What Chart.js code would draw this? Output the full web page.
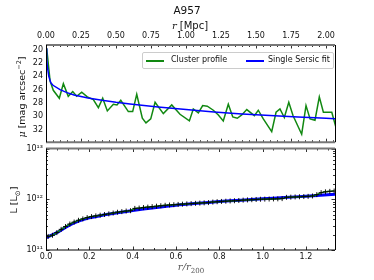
<!DOCTYPE html>
<html>
<head>
<meta charset="utf-8">
<script src="https://cdn.jsdelivr.net/npm/chart.js@4.4.1/dist/chart.umd.min.js"></script>
<style>
html, body { margin: 0; padding: 0; background: #fff; }
#wrap { position: relative; width: 374px; height: 280px; overflow: hidden; font-family: "DejaVu Sans", sans-serif; color: #111; }
canvas { position: absolute; left: 0; }
#c1 { top: 0; }
#c2 { top: 140px; }
.lbl { position: absolute; white-space: nowrap; transform: translate(-50%, -50%); }
.m { font-family: "DejaVu Serif", serif; font-style: italic; }
#legend { position: absolute; left: 142px; top: 52px; width: 190px; height: 15px; border: 1px solid #ccc; border-radius: 2px; background: rgba(255,255,255,0.85); font-size: 8px; }
#legend span { position: absolute; top: 2px; }
#legend i { position: absolute; top: 7px; height: 1.6px; width: 18px; }
</style>
</head>
<body>
<div id="wrap">
  <canvas id="c1" width="374" height="150" style="width:374px;height:150px"></canvas>
  <canvas id="c2" width="374" height="140" style="width:374px;height:140px"></canvas>
  <div class="lbl" style="left:187px;top:10px;font-size:10.5px;">A957</div>
  <div class="lbl" style="left:190px;top:25px;font-size:10px;"><span class="m">r</span> [Mpc]</div>
  <div class="lbl" style="left:191px;top:268px;font-size:10px;color:#555;"><span class="m">r</span><span class="m">/r</span><sub style="font-family:'DejaVu Serif',serif;font-size:7px;">200</sub></div>
  <div class="lbl" style="left:21px;top:97px;font-size:9.5px;transform:translate(-50%,-50%) rotate(-90deg);"><span class="m">μ</span> [mag arcsec<sup style="font-size:6.5px;">−2</sup>]</div>
  <div class="lbl" style="left:15px;top:200px;font-size:9.5px;transform:translate(-50%,-50%) rotate(-90deg);">L [L<sub style="font-size:7px;">⊙</sub>]</div>
  <div id="legend">
    <i style="left:3px;background:#118811;"></i><span style="left:28px;">Cluster profile</span>
    <i style="left:103px;background:#0000ff;"></i><span style="left:125px;">Single Sersic fit</span>
  </div>
</div>
<script>
// top panel: surface brightness vs r [Mpc]
const profR = [0.005, 0.029, 0.052, 0.095, 0.124, 0.159, 0.191, 0.219, 0.255, 0.295, 0.338, 0.374, 0.405, 0.438, 0.481, 0.507, 0.534, 0.588, 0.619, 0.648, 0.688, 0.714, 0.748, 0.779, 0.838, 0.898, 0.957, 1.024, 1.052, 1.088, 1.119, 1.152, 1.195, 1.231, 1.266, 1.302, 1.334, 1.366, 1.398, 1.434, 1.488, 1.516, 1.552, 1.612, 1.643, 1.671, 1.702, 1.734, 1.764, 1.826, 1.857, 1.886, 1.921, 1.952, 1.981, 2.041, 2.07];
const profMu = [19.8, 24.7, 26.1, 27.3, 25.1, 27.0, 26.3, 27.0, 26.4, 27.1, 27.5, 28.7, 27.3, 29.2, 28.2, 28.3, 27.6, 29.3, 29.3, 26.7, 30.3, 31.0, 30.4, 27.9, 29.6, 28.3, 29.7, 30.7, 28.9, 29.5, 28.4, 28.5, 29.1, 29.8, 30.7, 28.2, 30.1, 30.3, 29.8, 29.0, 29.9, 29.1, 30.4, 32.3, 29.4, 28.9, 30.2, 27.9, 29.9, 32.7, 28.4, 30.4, 30.6, 27.1, 29.4, 29.4, 31.6];
const fitR = [0, 0.005, 0.01, 0.02, 0.034, 0.05, 0.1, 0.15, 0.2, 0.3, 0.4, 0.5, 0.6, 0.8, 1.0, 1.2, 1.4, 1.6, 1.8, 2.0, 2.07];
const fitMu = [19.8, 21.4, 22.6, 24.0, 24.95, 25.35, 26.0, 26.45, 26.8, 27.25, 27.6, 27.9, 28.15, 28.6, 29.0, 29.35, 29.65, 29.9, 30.1, 30.3, 30.37];

// bottom panel: cumulative luminosity vs r/r200 (units of 1e11 Lsun)
const lumR = [0.01, 0.03, 0.05, 0.07, 0.09, 0.11, 0.13, 0.15, 0.17, 0.19, 0.21, 0.23, 0.25, 0.27, 0.29, 0.31, 0.33, 0.35, 0.37, 0.39, 0.41, 0.43, 0.45, 0.47, 0.49, 0.51, 0.53, 0.55, 0.57, 0.59, 0.61, 0.63, 0.65, 0.67, 0.69, 0.71, 0.73, 0.75, 0.77, 0.79, 0.81, 0.83, 0.85, 0.87, 0.89, 0.91, 0.93, 0.95, 0.97, 0.99, 1.01, 1.03, 1.05, 1.07, 1.09, 1.11, 1.13, 1.15, 1.17, 1.19, 1.21, 1.23, 1.25, 1.27, 1.29, 1.31, 1.33];
const lumL = [1.85, 1.95, 2.2, 2.55, 2.9, 3.25, 3.55, 3.85, 4.1, 4.35, 4.55, 4.7, 4.85, 5.0, 5.15, 5.35, 5.55, 5.7, 5.85, 5.95, 6.6, 6.7, 6.85, 7.0, 7.15, 7.3, 7.45, 7.6, 7.7, 7.8, 7.9, 8.0, 8.1, 8.2, 8.3, 8.4, 8.5, 8.6, 8.8, 8.95, 9.05, 9.15, 9.25, 9.35, 9.45, 9.6, 9.7, 9.8, 9.9, 10.0, 10.05, 10.1, 10.15, 10.2, 10.3, 10.9, 11.0, 11.1, 11.2, 11.3, 11.4, 11.6, 12.3, 13.5, 14.0, 14.3, 14.5];
const lumFitR = [0, 0.05, 0.1, 0.15, 0.2, 0.3, 0.4, 0.5, 0.6, 0.7, 0.8, 0.9, 1.0, 1.1, 1.2, 1.334];
const lumFitL = [1.75, 2.2, 2.95, 3.7, 4.3, 5.2, 6.0, 6.8, 7.6, 8.3, 9.0, 9.6, 10.2, 10.8, 11.5, 12.6];

const mpcTicks = [0, 0.25, 0.5, 0.75, 1.0, 1.25, 1.5, 1.75, 2.0];
const muTicks = [20, 22, 24, 26, 28, 30, 32];
const rTicks = [0, 0.2, 0.4, 0.6, 0.8, 1.0, 1.2];
const lTicks = [1e11, 1e12, 1e13];
const lTickText = { 1e11: "10¹¹", 1e12: "10¹²", 1e13: "10¹³" };

const GREEN = "#118811";
const BLUE = "#0000ff";
const FONT = { family: "DejaVu Sans", size: 8 };

const pts = (xs, ys, k = 1) => xs.map((x, i) => ({ x, y: ys[i] * k }));

// inward ticks + frame, matplotlib style
const frameTicks = {
  id: "frameTicks",
  afterDatasetsDraw(chart, args, opts) {
    const { ctx, chartArea: a } = chart;
    ctx.save();
    ctx.strokeStyle = "#000";
    ctx.lineWidth = 0.8;
    (opts.axes || []).forEach(ax => {
      const s = chart.scales[ax.id];
      const marks = [];
      if (ax.log) {
        for (let e = 11; e < 13; e++) {
          for (let m = 1; m < 10; m++) marks.push([m * Math.pow(10, e), m === 1]);
        }
        marks.push([1e13, true]);
      } else {
        const n = Math.round((s.max - s.min) / ax.minor);
        for (let i = 0; i <= n + 1; i++) {
          const v = i * ax.minor;
          const r = v / ax.major;
          marks.push([v, Math.abs(r - Math.round(r)) < 1e-6]);
        }
      }
      marks.forEach(([v, big]) => {
        const p = Math.round(s.getPixelForValue(v)) + 0.5;
        const len = big ? 3.5 : 2;
        ctx.beginPath();
        ax.edges.forEach(ed => {
          if (ed === "top" || ed === "bottom") {
            if (p < a.left || p > a.right) return;
            const y0 = ed === "top" ? a.top : a.bottom;
            ctx.moveTo(p, y0);
            ctx.lineTo(p, ed === "top" ? y0 + len : y0 - len);
          } else {
            if (p < a.top - 1 || p > a.bottom + 1) return;
            const x0 = ed === "left" ? a.left : a.right;
            ctx.moveTo(x0, p);
            ctx.lineTo(ed === "left" ? x0 + len : x0 - len, p);
          }
        });
        ctx.stroke();
      });
    });
    // frame
    (opts.frame || []).forEach(f => {
      ctx.strokeStyle = f.color;
      ctx.lineWidth = f.width;
      ctx.beginPath();
      if (f.edge === "top") { ctx.moveTo(a.left, a.top); ctx.lineTo(a.right, a.top); }
      if (f.edge === "bottom") { ctx.moveTo(a.left, a.bottom); ctx.lineTo(a.right, a.bottom); }
      if (f.edge === "left") { ctx.moveTo(a.left + 0.5, a.top); ctx.lineTo(a.left + 0.5, a.bottom); }
      if (f.edge === "right") { ctx.moveTo(a.right + 0.5, a.top); ctx.lineTo(a.right + 0.5, a.bottom); }
      ctx.stroke();
    });
    ctx.restore();
  }
};

new Chart(document.getElementById("c1"), {
  type: "line",
  data: {
    datasets: [
      { label: "Single Sersic fit", data: pts(fitR, fitMu), borderColor: BLUE, borderWidth: 1.5, pointRadius: 0, tension: 0, order: 0 },
      { label: "Cluster profile", data: pts(profR, profMu), borderColor: GREEN, borderWidth: 1.5, pointRadius: 0, tension: 0, order: 1 }
    ]
  },
  options: {
    responsive: false, animation: false, devicePixelRatio: 1,
    layout: { padding: { left: 0, right: 39, top: 0, bottom: 1.5 } },
    plugins: {
      legend: { display: false }, tooltip: { enabled: false },
      frameTicks: {
        axes: [
          { id: "x", edges: ["top", "bottom"], major: 0.25, minor: 0.05 },
          { id: "y", edges: ["left", "right"], major: 2, minor: 0.5 }
        ],
        frame: [
          { edge: "top", color: "#777", width: 2 },
          { edge: "bottom", color: "#777", width: 2 },
          { edge: "left", color: "#000", width: 1 },
          { edge: "right", color: "#000", width: 1 }
        ]
      }
    },
    scales: {
      x: {
        type: "linear", position: "top", min: 0, max: 2.064,
        afterBuildTicks: s => { s.ticks = mpcTicks.map(v => ({ value: v })); },
        afterFit: s => { s.height = 45; },
        grid: { display: false, drawTicks: false }, border: { display: false },
        ticks: { font: FONT, color: "#111", padding: 4, maxRotation: 0, callback: v => v.toFixed(2) }
      },
      y: {
        type: "linear", min: 19.3, max: 33.9, reverse: true,
        afterBuildTicks: s => { s.ticks = muTicks.map(v => ({ value: v })); },
        afterFit: s => { s.width = 46; },
        grid: { display: false, drawTicks: false }, border: { display: false },
        ticks: { font: FONT, color: "#111", padding: 3, callback: v => String(v) }
      }
    }
  },
  plugins: [frameTicks]
});

new Chart(document.getElementById("c2"), {
  type: "line",
  data: {
    datasets: [
      { label: "Cluster profile", data: pts(lumR, lumL, 1e11), borderColor: GREEN, borderWidth: 1.5, tension: 0,
        pointStyle: "cross", pointRadius: 2.5, pointBorderColor: "#000", pointBorderWidth: 0.9, order: 0 },
      { label: "Single Sersic fit", data: pts(lumFitR, lumFitL, 1e11), borderColor: BLUE, borderWidth: 3, pointRadius: 0, tension: 0.3, order: 1 }
    ]
  },
  options: {
    responsive: false, animation: false, devicePixelRatio: 1,
    layout: { padding: { left: 0, right: 39, top: 8.5, bottom: 0 } },
    plugins: {
      legend: { display: false }, tooltip: { enabled: false },
      frameTicks: {
        axes: [
          { id: "x", edges: ["top", "bottom"], major: 0.2, minor: 0.05 },
          { id: "y", edges: ["left", "right"], log: true }
        ],
        frame: [
          { edge: "top", color: "#777", width: 2 },
          { edge: "bottom", color: "#000", width: 1 },
          { edge: "left", color: "#000", width: 1 },
          { edge: "right", color: "#000", width: 1 }
        ]
      }
    },
    scales: {
      x: {
        type: "linear", position: "bottom", min: 0, max: 1.334,
        afterBuildTicks: s => { s.ticks = rTicks.map(v => ({ value: v })); },
        afterFit: s => { s.height = 30; },
        grid: { display: false, drawTicks: false }, border: { display: false },
        ticks: { font: FONT, color: "#111", padding: 2, maxRotation: 0, callback: v => v.toFixed(1) }
      },
      y: {
        type: "logarithmic", min: 1e11, max: 1e13,
        afterBuildTicks: s => { s.ticks = lTicks.map(v => ({ value: v })); },
        afterFit: s => { s.width = 46; },
        grid: { display: false, drawTicks: false }, border: { display: false },
        ticks: { font: FONT, color: "#111", padding: 3, callback: v => lTickText[v] || "" }
      }
    }
  },
  plugins: [frameTicks]
});
</script>
</body>
</html>
